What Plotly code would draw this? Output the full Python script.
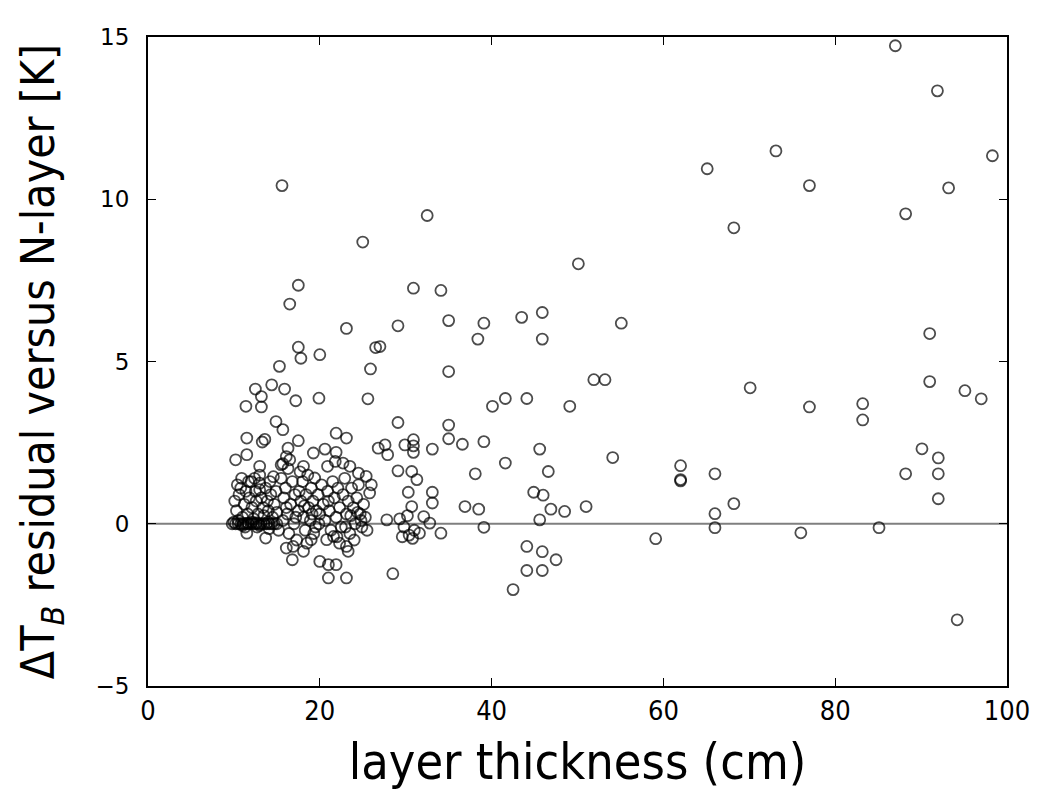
import plotly.graph_objects as go

# ---- data (layer thickness [cm], residual [K]) ----
x_sparse = [87.0, 91.9, 73.1, 98.3, 65.1, 77.0, 93.2, 88.2, 68.2,
            91.0, 91.0, 95.1, 97.0, 70.1, 77.0, 83.2, 83.2, 90.1, 92.0, 92.0, 88.2, 92.0,
            62.0, 62.0, 62.0, 66.0, 68.2, 66.0, 66.0, 76.0, 85.1, 59.1, 94.2,
            55.1, 50.1, 32.5, 30.9, 34.1, 29.1, 35.0, 39.1, 38.4, 43.5, 45.9, 45.9,
            35.0, 51.9, 53.2, 40.1, 41.6, 44.1, 49.1, 29.1, 35.0, 35.0, 36.6, 39.1,
            33.1, 30.9, 30.9, 30.9, 29.9, 26.8, 27.6, 27.9, 45.6, 54.1, 41.6, 46.6,
            38.1, 29.1, 30.7, 31.3, 30.3, 33.1, 30.7, 33.1, 36.9, 38.5, 44.9, 46.0,
            46.9, 48.5, 51.0, 45.6, 27.8, 32.1, 32.8, 31.6, 34.1, 39.1, 44.1, 45.9,
            47.5, 44.1, 45.9, 42.5, 28.5, 27.0,
            29.3, 29.8, 30.2, 30.4, 30.8, 31.0, 29.6]
y_sparse = [14.73, 13.34, 11.49, 11.34, 10.94, 10.42, 10.35, 9.55, 9.12,
            5.86, 4.38, 4.10, 3.85, 4.19, 3.60, 3.70, 3.20, 2.31, 2.03, 1.54, 1.54, 0.77,
            1.79, 1.32, 1.36, 1.54, 0.62, 0.31, -0.12, -0.28, -0.12, -0.46, -2.96,
            6.18, 8.01, 9.50, 7.26, 7.19, 6.10, 6.26, 6.18, 5.69, 6.36, 6.51, 5.69,
            4.69, 4.44, 4.44, 3.62, 3.86, 3.86, 3.62, 3.12, 3.04, 2.62, 2.45, 2.53,
            2.30, 2.59, 2.40, 2.20, 2.43, 2.33, 2.43, 2.13, 2.30, 2.04, 1.87, 1.61,
            1.54, 1.63, 1.61, 1.36, 0.97, 0.97, 0.53, 0.64, 0.53, 0.45, 0.97, 0.88,
            0.45, 0.38, 0.53, 0.12, 0.12, 0.22, 0.02, -0.29, -0.29, -0.11, -0.70, -0.86,
            -1.11, -1.44, -1.44, -2.03, -1.54, 5.46,
            0.15, -0.10, 0.25, -0.35, -0.45, -0.20, -0.40]

x_mid = [15.6, 25.0, 17.5, 16.5, 23.1, 26.5, 25.9, 17.5, 17.8, 20.0, 15.3, 12.5, 14.4, 15.9,
         13.2, 11.4, 13.2, 17.2, 19.9, 25.6, 14.9, 15.7, 11.5, 13.3, 13.6, 17.5, 21.9, 23.1,
         10.2, 11.5, 16.3, 16.1, 15.5, 15.7, 16.5, 18.1, 19.25, 20.6, 21.9, 20.9, 21.8, 22.7,
         23.5, 24.5, 25.4, 26.0, 25.8, 13.0, 10.4,
         11.5, 13.7, 16.1, 16.8, 18.1, 19.0, 20.0, 21.0, 23.1, 21.0, 21.9, 20.8, 22.3, 23.1,
         23.3, 21.6]
y_mid = [10.42, 8.68, 7.35, 6.77, 6.02, 5.43, 4.77, 5.44, 5.10, 5.21, 4.85, 4.15, 4.28, 4.15,
         3.92, 3.62, 3.60, 3.79, 3.87, 3.85, 3.15, 2.90, 2.64, 2.52, 2.60, 2.56, 2.79, 2.64,
         1.97, 2.13, 2.33, 2.07, 1.82, 1.85, 1.97, 1.77, 2.18, 2.30, 2.20, 1.77, 1.92, 1.87,
         1.77, 1.56, 1.46, 1.20, 0.95, 1.77, 1.20,
         -0.29, -0.44, -0.75, -1.11, -0.85, -0.49, -1.16, -1.67, -1.67, -1.26, -1.26, -0.49, -0.60, -0.70,
         -0.85, -0.39]

x_dense = [9.8, 10.2, 10.5, 10.8, 11.1, 11.4, 11.7, 12.0, 12.3, 12.6, 12.9, 13.2, 13.5, 13.8,
           14.1, 14.4, 14.7, 15.0, 10.0, 11.0, 12.1, 13.0, 14.0, 12.6, 11.6,
           10.3, 10.6, 10.8, 11.0, 11.2, 11.4, 11.6, 11.8, 12.0, 12.1, 12.3, 12.5, 12.6, 12.8,
           13.0, 13.0, 13.0, 13.2, 13.4, 13.5, 13.7, 13.9, 14.0, 14.2, 14.3, 14.5, 14.7, 14.9,
           15.0, 10.9, 11.7, 12.4, 14.6, 10.5, 11.3, 12.7, 14.1, 15.2, 10.1,
           15.5, 15.8, 16.0, 16.2, 16.4, 16.6, 16.8, 17.0, 17.1, 17.3, 17.5, 17.6, 17.8, 18.0,
           18.1, 18.3, 18.4, 18.6, 18.7, 18.9, 19.0, 19.2, 19.3, 19.4, 19.6, 19.8, 19.9, 16.3,
           17.7, 15.7, 16.9, 18.5, 19.5, 16.1, 17.2, 18.2, 19.1,
           20.2, 20.4, 20.6, 20.9, 21.1, 21.3, 21.5, 21.7, 21.9, 22.1, 22.3, 22.5, 22.7, 22.9,
           23.1, 23.3, 23.5, 23.7, 23.9, 24.1, 24.3, 24.5, 24.7, 24.9, 25.1, 25.3, 20.0, 22.0,
           24.0, 21.0, 23.0, 25.5, 23.6, 24.4, 24.8]
y_dense = [0.0, 0.0, 0.0, 0.0, 0.0, 0.0, 0.0, 0.0, 0.0, 0.0, 0.0, 0.0, 0.0, 0.0,
           0.0, 0.0, 0.0, 0.0, 0.05, -0.05, 0.05, -0.05, 0.05, 0.03, 0.02,
           0.40, 0.90, 1.10, 0.20, 0.60, 1.00, 0.30, 0.80, 1.30, 0.50, 0.15, 1.00, 0.70, 0.30,
           1.50, 1.25, 1.05, 0.80, 0.50, 0.25, 1.10, 0.70, 0.40, 1.30, 0.90, 0.20, 0.60, 1.00,
           0.35, 1.40, 1.30, 1.40, 1.45, 0.10, -0.10, -0.10, -0.15, -0.20, 0.70,
           1.40, 0.80, 1.10, 0.30, -0.30, 0.60, 1.30, 0.00, 0.90, -0.50, 0.40, 1.00, 0.70, 1.30,
           0.20, -0.20, 0.90, 1.50, 0.50, 0.10, 1.10, 0.70, -0.30, 1.41, 0.40, 0.90, 0.00, 1.70,
           1.60, 0.10, -0.70, -0.60, -0.10, 0.50, 0.20, 0.55, 0.30,
           1.20, 0.60, 0.10, 1.00, 0.40, -0.20, 1.30, 0.80, 0.20, 1.10, 0.50, -0.10, 0.90, 1.40,
           0.30, 0.70, -0.30, 1.10, 0.50, 0.00, 0.80, 1.20, 0.30, -0.10, 0.60, 0.20, 0.30, -0.40,
           -0.50, 0.70, -0.10, -0.20, 0.25, 0.35, 0.10]

x_all = x_sparse + x_mid + x_dense
y_all = y_sparse + y_mid + y_dense

x_ticks = [0, 20, 40, 60, 80, 100]
y_ticks = [-5, 0, 5, 10, 15]

fig = go.Figure()
fig.add_trace(go.Scatter(
    x=x_all, y=y_all, mode="markers",
    marker=dict(symbol="circle-open", size=11, color="rgba(0,0,0,0.7)",
                line=dict(width=1.8, color="rgba(0,0,0,0.7)")),
    showlegend=False, hoverinfo="x+y"))

fig.add_hline(y=0, line=dict(color="#7f7f7f", width=2), layer="below")

cond = "DejaVu Sans Condensed, DejaVu Sans"
axis_common = dict(showgrid=False, zeroline=False, showline=True, mirror="allticks",
                   linecolor="black", linewidth=2, ticks="inside", ticklen=8,
                   tickwidth=1.2, tickcolor="black", automargin=False)

fig.update_xaxes(range=[0, 100], tickvals=x_ticks, ticktext=[str(v) for v in x_ticks],
                 tickfont=dict(family=cond, size=27, color="black"),
                 title=dict(text="layer thickness (cm)", standoff=22,
                            font=dict(family=cond, size=50, color="black")),
                 **axis_common)
fig.update_yaxes(range=[-5, 15], tickvals=y_ticks, ticktext=["\u22125", "0", "5", "10", "15"],
                 tickfont=dict(family="DejaVu Sans", size=23, color="black"),
                 ticklabelstandoff=12,
                 title=dict(text="\u0394T<sub><i>B</i></sub> residual versus N-layer [K]", standoff=26,
                            font=dict(family=cond, size=46, color="black")),
                 **axis_common)

fig.update_layout(width=1037, height=791, plot_bgcolor="white", paper_bgcolor="white",
                  margin=dict(l=148, r=30, t=37, b=105))

fig.write_html("out.html")
